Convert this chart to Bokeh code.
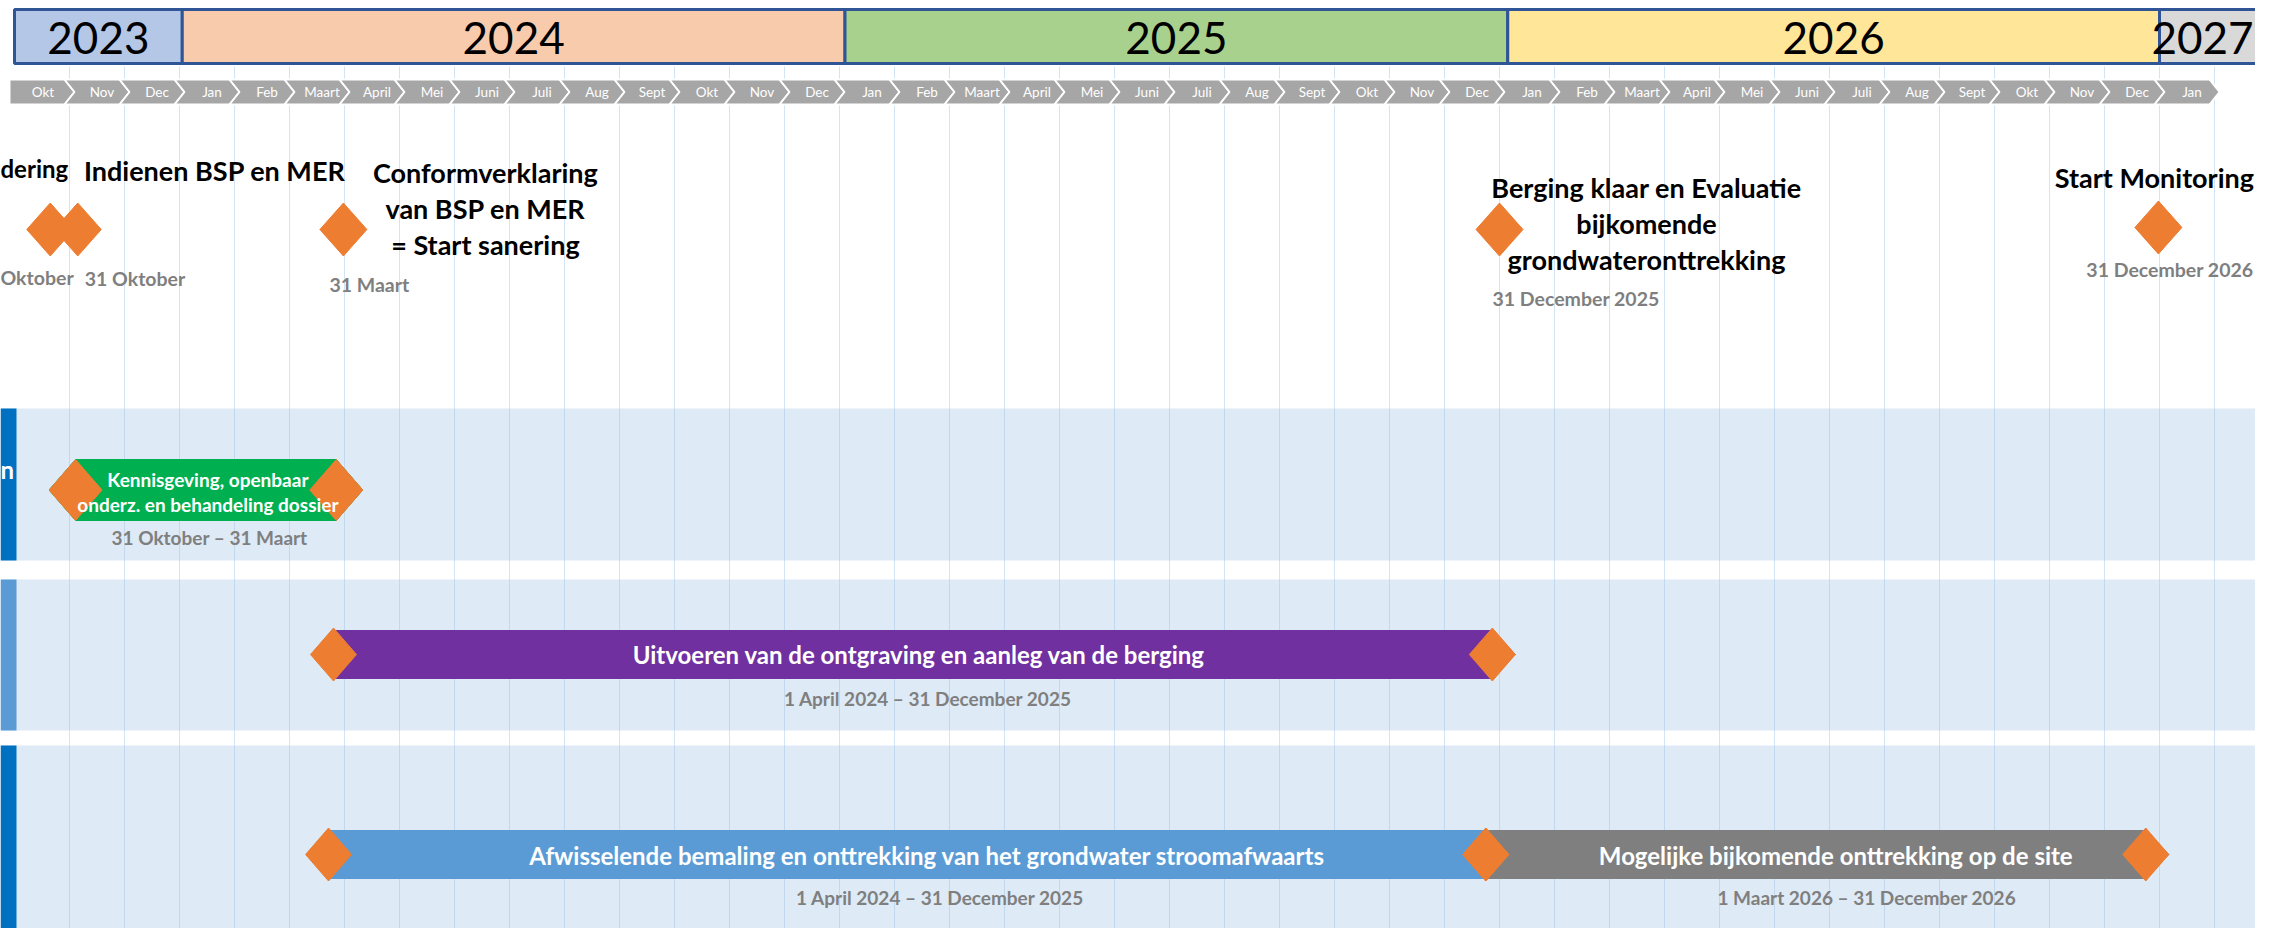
from bokeh.plotting import figure
from bokeh.models import Range1d
from bokeh.core.properties import value
from bokeh.embed import file_html
from bokeh.resources import INLINE

# ---------------- DATA ----------------
years = ["2023", "2024", "2025", "2026", "2027"]
year_start = [0, 3.05, 15.1, 27.15, 39]          # month index, 0 = 1 Okt 2023
year_end = [3.05, 15.1, 27.15, 39, 41.6]
month_labels = (["Okt", "Nov", "Dec"]
                + ["Jan", "Feb", "Maart", "April", "Mei", "Juni", "Juli", "Aug", "Sept", "Okt", "Nov", "Dec"] * 3
                + ["Jan"])

milestone_titles = ["dering",
                    "Indienen BSP en MER",
                    "Conformverklaring\nvan BSP en MER\n= Start sanering",
                    "Berging klaar en Evaluatie\nbijkomende\ngrondwateronttrekking",
                    "Start Monitoring"]
milestone_dates = ["Oktober", "31 Oktober", "31 Maart", "31 December 2025", "31 December 2026"]
milestone_month = [0.65, 1.15, 5.98, 27.0, 38.98]

task_names = ["Kennisgeving, openbaar\nonderz. en behandeling dossier",
              "Uitvoeren van de ontgraving en aanleg van de berging",
              "Afwisselende bemaling en onttrekking van het grondwater stroomafwaarts",
              "Mogelijke bijkomende onttrekking op de site"]
task_dates = ["31 Oktober  \u2013 31 Maart",
              "1 April 2024 \u2013 31 December 2025",
              "1 April 2024 \u2013 31 December 2025",
              "1 Maart 2026 \u2013 31 December 2026"]
task_start = [1.11, 5.8, 5.71, 26.75]
task_end = [5.85, 26.87, 26.75, 38.75]
task_lane = [0, 1, 2, 2]
lane_tab_text = ["n", "", ""]

# ---------------- LAYOUT / STYLE ----------------
PPM = 55.0          # pixels per month
X0 = 14.0           # screen x of month 0
W, H = 2255, 928
FONT = value("Lato")

def px(dx):
    return dx / PPM

def sx(screen_x):
    return (screen_x - X0) / PPM

year_colors = ["#B4C7E7", "#F8CBAD", "#A9D18E", "#FFE699", "#D9D9D9"]
task_colors = ["#00B050", "#7030A0", "#5B9BD5", "#7F7F7F"]
lane_tabs = ["#0070C0", "#5B9BD5", "#0070C0"]
lane_y = [(408, 560), (579, 730), (745, 960)]
bar_y = [(459, 520), (630, 678), (830, 878), (830, 878)]
dia_size = [(26.5, 30.5), (23, 26.5), (23, 26.5), (23, 26.5)]
ORANGE = "#ED7D31"
GRAYTXT = "#7F7F7F"

p = figure(width=W, height=H, output_backend="svg", toolbar_location=None,
           x_range=Range1d(sx(0), sx(0) + W / PPM), y_range=Range1d(H, 0),
           x_axis_location=None, y_axis_location=None, min_border=0)
p.outline_line_color = None
p.xgrid.visible = False
p.ygrid.visible = False
p.background_fill_color = "white"

# ---- lanes ----
p.quad(left=[sx(0)] * 3, right=[sx(2400)] * 3,
       top=[a for a, b in lane_y], bottom=[b for a, b in lane_y],
       fill_color="#DEEAF6", line_color=None)
p.quad(left=[sx(0)] * 3, right=[sx(16)] * 3,
       top=[a for a, b in lane_y], bottom=[b for a, b in lane_y],
       fill_color=lane_tabs, line_color=None)
p.text(x=[sx(0)], y=[(lane_y[0][0] + lane_y[0][1]) / 2 - 15], text=[lane_tab_text[0]],
       text_font=FONT, text_font_size="24px", text_font_style="bold", text_color="white",
       text_align="left", text_baseline="middle")

# ---- month gridlines ----
gx = list(range(1, len(month_labels) + 1))
p.segment(x0=gx, x1=gx, y0=[66] * len(gx), y1=[944] * len(gx),
          line_color="#9DC3E6", line_alpha=0.45, line_width=1)

# ---- year boxes ----
p.quad(left=year_start, right=year_end, top=[9] * 5, bottom=[63] * 5,
       fill_color=year_colors, line_color="#2F5597", line_width=3)
yl_x = [(a + b) / 2 for a, b in zip(year_start, year_end)]
p.text(x=yl_x[:-1], y=[37] * 4, text=years[:-1],
       text_font=FONT, text_font_size="44px", text_color="black",
       text_align="center", text_baseline="middle")
p.text(x=[sx(2253)], y=[37], text=years[-1:],
       text_font=FONT, text_font_size="44px", text_color="black",
       text_align="right", text_baseline="middle")

# ---- month chevrons ----
top, bot, mid = 79, 104, 91.5
t = px(10)
cxs, cys, lx = [], [], []
for k in range(len(month_labels)):
    a = k - px(5)
    b = a + 1.0
    if k == 0:
        xs = [a, b, b + t, b, a]
        ys = [top, top, mid, bot, bot]
    else:
        xs = [a, b, b + t, b, a, a + t]
        ys = [top, top, mid, bot, bot, mid]
    cxs.append(xs)
    cys.append(ys)
    lx.append(a + 0.5 + px(10) + (0 if k else -px(4)))
p.patches(cxs, cys, fill_color="#A6A6A6", line_color="white", line_width=2)
p.text(x=lx, y=[mid] * len(lx), text=month_labels, text_font=FONT, text_font_size="13.5px",
       text_color="white", text_align="center", text_baseline="middle")

# ---- task bars ----
for i in range(len(task_names)):
    s, e = task_start[i], task_end[i]
    y0, y1 = bar_y[i]
    ym = (y0 + y1) / 2
    hw = px(dia_size[i][0])
    if i == 0:
        xs = [s - hw, s, e, e + hw, e, s]
        ys = [ym, y0, y0, ym, y1, y1]
    else:
        xs = [s, e, e + hw, e, s]
        ys = [y0, y0, ym, y1, y1]
    p.patch(xs, ys, fill_color=task_colors[i], line_color=task_colors[i], line_width=1)

# diamonds on tasks
dxs, dys = [], []
for i in range(len(task_names)):
    y0, y1 = bar_y[i]
    ym = (y0 + y1) / 2
    hw, hh = px(dia_size[i][0]), dia_size[i][1]
    for c in (task_start[i], task_end[i]):
        dxs.append([c - hw, c, c + hw, c])
        dys.append([ym, ym - hh, ym, ym + hh])
# milestone diamonds
ms_y = [229, 229, 229, 229, 227]
for m, yy in zip(milestone_month, ms_y):
    hw, hh = px(23.5), 26.5
    dxs.append([m - hw, m, m + hw, m])
    dys.append([yy, yy - hh, yy, yy + hh])
p.patches(dxs, dys, fill_color=ORANGE, line_color=ORANGE, line_width=1)

# task labels
text_dx = [2, 6, 20, 20]
date_dx = [6, 15, 33, 51]
name_y = [[479, 504], [654], [855], [855]]
date_y = [537, 698, 897, 897]
name_sz = ["19px", "24px", "24px", "24px"]
for i in range(len(task_names)):
    cx = (task_start[i] + task_end[i]) / 2
    lines = task_names[i].split("\n")
    p.text(x=[cx + px(text_dx[i])] * len(lines), y=name_y[i], text=lines,
           text_font=FONT, text_font_size=name_sz[i], text_font_style="bold", text_color="white",
           text_align="center", text_baseline="middle")
    p.text(x=[cx + px(date_dx[i])], y=[date_y[i]], text=[task_dates[i]],
           text_font=FONT, text_font_size="19px", text_font_style="bold", text_color=GRAYTXT,
           text_align="center", text_baseline="middle")

# milestone labels
title_x = [sx(0), None, None, None, None]
title_dx = [0, 137, 142, 147, -4]
title_align = ["left", "center", "center", "center", "center"]
title_y = [168, 170, 172, 187, 177]
title_sz = ["24px", "27px", "27px", "27px", "27px"]
date_align = ["left", "left", "left", "left", "right"]
date_dx2 = [0, 7, -14, -7, 0]
mdate_y = [277, 278, 284, 298, 269]
for i in range(len(milestone_titles)):
    m = milestone_month[i]
    lines = milestone_titles[i].split("\n")
    tx = title_x[i] if title_x[i] is not None else m + px(title_dx[i])
    p.text(x=[tx] * len(lines), y=[title_y[i] + 36 * j for j in range(len(lines))],
           text=lines, text_font=FONT, text_font_size=title_sz[i], text_font_style="bold",
           text_color="black", text_align=title_align[i], text_baseline="middle")
    if i == 0:
        dx = sx(0)
    elif i == len(milestone_titles) - 1:
        dx = sx(2253)
    else:
        dx = m + px(date_dx2[i])
    p.text(x=[dx], y=[mdate_y[i]], text=[milestone_dates[i]],
           text_font=FONT, text_font_size="19.5px", text_font_style="bold", text_color=GRAYTXT,
           text_align=date_align[i], text_baseline="middle")

open("out.html", "w").write(file_html(p, INLINE))
